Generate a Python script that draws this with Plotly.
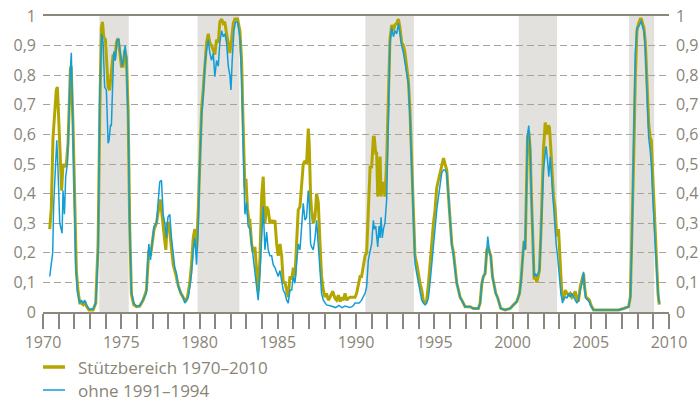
import plotly.graph_objects as go

# --- data ---
olive_years = [1970.43,1970.53,1970.64,1970.85,1970.92,1971.00,1971.11,1971.19,1971.28,1971.41,1971.49,1971.60,1971.75,1971.80,1971.92,1972.03,1972.13,1972.24,1972.35,1972.45,1972.56,1972.67,1972.77,1972.94,1973.20,1973.37,1973.52,1973.63,1973.73,1973.80,1973.88,1973.99,1974.05,1974.16,1974.26,1974.37,1974.48,1974.58,1974.69,1974.80,1974.90,1975.01,1975.12,1975.22,1975.33,1975.44,1975.54,1975.65,1975.80,1975.97,1976.18,1976.40,1976.61,1976.76,1976.87,1976.97,1977.10,1977.25,1977.40,1977.49,1977.57,1977.68,1977.78,1977.85,1977.93,1978.04,1978.17,1978.32,1978.47,1978.64,1978.81,1978.96,1979.11,1979.23,1979.38,1979.49,1979.60,1979.70,1979.81,1979.92,1980.02,1980.13,1980.24,1980.34,1980.45,1980.56,1980.66,1980.77,1980.88,1980.98,1981.09,1981.20,1981.30,1981.41,1981.52,1981.62,1981.73,1981.84,1981.94,1982.05,1982.16,1982.26,1982.43,1982.58,1982.69,1982.79,1982.90,1982.97,1983.06,1983.15,1983.22,1983.33,1983.43,1983.54,1983.65,1983.75,1983.86,1983.97,1984.07,1984.18,1984.29,1984.39,1984.50,1984.61,1984.71,1984.82,1984.93,1985.03,1985.14,1985.25,1985.35,1985.46,1985.57,1985.67,1985.78,1985.89,1986.00,1986.10,1986.20,1986.31,1986.42,1986.52,1986.63,1986.74,1986.84,1986.95,1987.01,1987.10,1987.16,1987.27,1987.38,1987.48,1987.59,1987.70,1987.80,1987.91,1988.02,1988.12,1988.23,1988.34,1988.51,1988.66,1988.76,1988.87,1988.98,1989.08,1989.19,1989.30,1989.40,1989.51,1989.62,1989.83,1989.94,1990.04,1990.15,1990.26,1990.36,1990.47,1990.58,1990.68,1990.79,1990.90,1991.00,1991.11,1991.17,1991.26,1991.32,1991.39,1991.47,1991.54,1991.60,1991.68,1991.75,1991.85,1991.96,1992.07,1992.17,1992.28,1992.39,1992.49,1992.60,1992.71,1992.81,1992.92,1993.03,1993.13,1993.24,1993.35,1993.45,1993.56,1993.67,1993.77,1993.88,1993.99,1994.09,1994.20,1994.31,1994.41,1994.52,1994.63,1994.73,1994.84,1994.95,1995.05,1995.16,1995.27,1995.37,1995.48,1995.59,1995.69,1995.80,1995.91,1996.01,1996.12,1996.23,1996.33,1996.44,1996.55,1996.65,1996.76,1996.87,1996.97,1997.29,1997.50,1997.82,1997.93,1998.04,1998.14,1998.25,1998.36,1998.44,1998.53,1998.61,1998.72,1998.82,1998.93,1999.04,1999.14,1999.25,1999.53,1999.85,2000.06,2000.27,2000.45,2000.55,2000.66,2000.74,2000.81,2000.87,2000.96,2001.04,2001.13,2001.21,2001.30,2001.38,2001.47,2001.55,2001.64,2001.72,2001.81,2001.90,2001.98,2002.09,2002.19,2002.28,2002.36,2002.45,2002.53,2002.62,2002.73,2002.83,2002.94,2003.05,2003.15,2003.26,2003.37,2003.48,2003.58,2003.69,2003.80,2003.90,2004.01,2004.12,2004.22,2004.33,2004.44,2004.54,2004.61,2004.69,2004.80,2004.91,2005.01,2005.18,2005.50,2006.14,2006.78,2007.10,2007.42,2007.53,2007.63,2007.74,2007.85,2007.95,2008.06,2008.17,2008.23,2008.32,2008.40,2008.49,2008.59,2008.70,2008.79,2008.87,2008.93,2009.02,2009.08,2009.13,2009.20,2009.30,2009.38]
olive_values = [0.28,0.35,0.59,0.75,0.76,0.65,0.51,0.41,0.50,0.49,0.50,0.57,0.82,0.83,0.63,0.34,0.14,0.07,0.03,0.03,0.025,0.035,0.02,0.007,0.007,0.03,0.23,0.68,0.96,0.98,0.93,0.92,0.85,0.76,0.75,0.80,0.87,0.85,0.91,0.925,0.885,0.83,0.83,0.885,0.86,0.68,0.29,0.06,0.024,0.018,0.02,0.04,0.074,0.21,0.19,0.23,0.28,0.30,0.345,0.38,0.345,0.30,0.24,0.21,0.30,0.30,0.23,0.16,0.13,0.09,0.063,0.05,0.035,0.05,0.10,0.16,0.25,0.28,0.21,0.345,0.55,0.68,0.755,0.83,0.91,0.94,0.91,0.90,0.88,0.87,0.92,0.91,0.98,0.99,0.975,0.98,0.94,0.90,0.875,0.92,0.975,0.99,0.99,0.95,0.85,0.63,0.42,0.45,0.35,0.31,0.31,0.23,0.20,0.22,0.13,0.07,0.176,0.39,0.457,0.30,0.356,0.345,0.30,0.31,0.30,0.31,0.23,0.19,0.23,0.19,0.10,0.10,0.074,0.05,0.12,0.11,0.15,0.12,0.23,0.345,0.356,0.42,0.50,0.51,0.50,0.62,0.57,0.39,0.345,0.30,0.32,0.40,0.37,0.23,0.12,0.074,0.05,0.063,0.04,0.05,0.07,0.046,0.04,0.057,0.035,0.05,0.04,0.063,0.04,0.046,0.05,0.05,0.05,0.063,0.097,0.12,0.12,0.164,0.19,0.20,0.32,0.49,0.49,0.59,0.59,0.536,0.536,0.39,0.457,0.525,0.39,0.435,0.435,0.39,0.51,0.74,0.92,0.97,0.95,0.97,0.975,0.99,0.96,0.91,0.90,0.875,0.82,0.78,0.68,0.51,0.32,0.19,0.164,0.12,0.097,0.074,0.035,0.03,0.04,0.097,0.164,0.23,0.30,0.345,0.42,0.446,0.47,0.50,0.52,0.50,0.48,0.39,0.30,0.23,0.20,0.14,0.097,0.074,0.05,0.04,0.03,0.018,0.018,0.012,0.012,0.03,0.097,0.12,0.13,0.21,0.22,0.20,0.19,0.12,0.097,0.063,0.05,0.03,0.012,0.007,0.012,0.024,0.035,0.063,0.11,0.19,0.24,0.21,0.39,0.59,0.61,0.55,0.39,0.23,0.11,0.12,0.10,0.12,0.14,0.255,0.39,0.55,0.64,0.60,0.63,0.625,0.55,0.457,0.39,0.345,0.255,0.28,0.164,0.063,0.04,0.074,0.063,0.057,0.063,0.05,0.057,0.07,0.04,0.04,0.085,0.11,0.13,0.085,0.05,0.046,0.04,0.024,0.007,0.007,0.007,0.007,0.012,0.018,0.05,0.23,0.51,0.795,0.95,0.975,0.99,0.99,0.975,0.96,0.91,0.77,0.64,0.59,0.58,0.50,0.38,0.30,0.28,0.17,0.06,0.025]

blue_years = [1970.43,1970.50,1970.56,1970.62,1970.68,1970.81,1970.88,1970.96,1971.07,1971.22,1971.28,1971.37,1971.45,1971.56,1971.66,1971.75,1971.81,1971.88,1971.98,1972.09,1972.20,1972.35,1972.45,1972.56,1972.67,1972.77,1972.94,1973.20,1973.37,1973.52,1973.63,1973.75,1973.84,1973.94,1974.05,1974.16,1974.22,1974.31,1974.37,1974.44,1974.52,1974.61,1974.73,1974.84,1974.95,1975.05,1975.16,1975.25,1975.33,1975.44,1975.54,1975.65,1975.80,1975.97,1976.18,1976.40,1976.60,1976.76,1976.87,1976.97,1977.10,1977.25,1977.36,1977.46,1977.57,1977.68,1977.78,1977.89,1977.98,1978.10,1978.21,1978.32,1978.42,1978.53,1978.64,1978.81,1978.96,1979.06,1979.17,1979.28,1979.38,1979.49,1979.60,1979.70,1979.81,1979.92,1980.02,1980.13,1980.24,1980.34,1980.45,1980.56,1980.66,1980.77,1980.88,1980.98,1981.09,1981.20,1981.30,1981.41,1981.52,1981.62,1981.73,1981.84,1981.94,1982.01,1982.09,1982.20,1982.30,1982.43,1982.58,1982.69,1982.79,1982.90,1983.01,1983.11,1983.22,1983.33,1983.43,1983.54,1983.65,1983.75,1983.86,1983.97,1984.07,1984.18,1984.29,1984.39,1984.50,1984.61,1984.71,1984.82,1984.93,1985.03,1985.14,1985.25,1985.35,1985.46,1985.57,1985.67,1985.78,1985.89,1986.00,1986.10,1986.20,1986.31,1986.42,1986.52,1986.63,1986.74,1986.84,1986.95,1987.01,1987.10,1987.16,1987.27,1987.38,1987.48,1987.59,1987.70,1987.80,1987.91,1988.02,1988.12,1988.40,1988.70,1988.90,1989.10,1989.30,1989.60,1989.80,1989.94,1990.20,1990.36,1990.58,1990.68,1990.79,1990.90,1991.00,1991.11,1991.17,1991.26,1991.32,1991.39,1991.47,1991.54,1991.60,1991.68,1991.75,1991.85,1991.96,1992.07,1992.17,1992.28,1992.39,1992.49,1992.60,1992.71,1992.81,1992.92,1993.03,1993.13,1993.24,1993.35,1993.45,1993.56,1993.67,1993.77,1993.88,1993.99,1994.09,1994.20,1994.31,1994.41,1994.52,1994.63,1994.73,1994.84,1994.95,1995.05,1995.16,1995.27,1995.37,1995.48,1995.59,1995.69,1995.80,1995.91,1996.01,1996.12,1996.23,1996.33,1996.44,1996.55,1996.65,1996.76,1996.87,1996.97,1997.29,1997.50,1997.82,1997.93,1998.04,1998.14,1998.25,1998.36,1998.42,1998.53,1998.61,1998.72,1998.82,1998.93,1999.04,1999.14,1999.25,1999.53,1999.85,2000.06,2000.27,2000.45,2000.55,2000.66,2000.74,2000.81,2000.87,2000.96,2001.04,2001.13,2001.21,2001.30,2001.38,2001.47,2001.55,2001.64,2001.72,2001.81,2001.90,2001.98,2002.09,2002.15,2002.24,2002.32,2002.41,2002.49,2002.58,2002.68,2002.79,2002.88,2002.98,2003.09,2003.20,2003.30,2003.43,2003.48,2003.58,2003.69,2003.80,2003.90,2004.01,2004.12,2004.22,2004.33,2004.44,2004.54,2004.61,2004.69,2004.80,2004.91,2005.01,2005.18,2005.50,2006.14,2006.78,2007.10,2007.42,2007.53,2007.63,2007.74,2007.85,2007.95,2008.06,2008.17,2008.23,2008.32,2008.40,2008.49,2008.59,2008.70,2008.79,2008.87,2008.96,2009.06,2009.13,2009.23,2009.34,2009.40]
blue_values = [0.12,0.15,0.16,0.20,0.36,0.547,0.58,0.48,0.30,0.266,0.41,0.33,0.457,0.50,0.69,0.82,0.876,0.68,0.39,0.16,0.07,0.03,0.04,0.03,0.04,0.025,0.01,0.01,0.03,0.20,0.74,0.94,0.91,0.76,0.75,0.57,0.58,0.63,0.63,0.795,0.88,0.85,0.92,0.92,0.86,0.83,0.86,0.90,0.85,0.65,0.29,0.07,0.03,0.02,0.02,0.04,0.063,0.23,0.176,0.23,0.29,0.30,0.39,0.44,0.445,0.33,0.30,0.25,0.32,0.33,0.25,0.19,0.15,0.13,0.085,0.063,0.05,0.03,0.04,0.05,0.085,0.13,0.21,0.25,0.16,0.29,0.50,0.66,0.73,0.83,0.885,0.92,0.875,0.85,0.875,0.795,0.85,0.83,0.91,0.95,0.93,0.94,0.91,0.83,0.80,0.75,0.85,0.95,0.98,0.98,0.93,0.795,0.57,0.33,0.37,0.29,0.28,0.23,0.20,0.15,0.085,0.04,0.13,0.23,0.356,0.21,0.27,0.21,0.19,0.19,0.16,0.15,0.13,0.12,0.14,0.11,0.074,0.063,0.04,0.03,0.074,0.074,0.12,0.097,0.176,0.23,0.21,0.30,0.367,0.31,0.32,0.41,0.37,0.23,0.22,0.21,0.25,0.31,0.23,0.12,0.063,0.04,0.03,0.024,0.02,0.015,0.022,0.015,0.02,0.015,0.02,0.03,0.03,0.04,0.063,0.085,0.176,0.21,0.23,0.31,0.28,0.29,0.25,0.22,0.29,0.25,0.32,0.25,0.28,0.30,0.38,0.68,0.91,0.96,0.93,0.95,0.94,0.975,0.93,0.90,0.875,0.84,0.795,0.77,0.66,0.49,0.30,0.164,0.13,0.097,0.063,0.04,0.03,0.024,0.03,0.05,0.097,0.164,0.23,0.29,0.345,0.39,0.435,0.47,0.48,0.48,0.47,0.38,0.29,0.23,0.19,0.14,0.097,0.074,0.05,0.04,0.03,0.018,0.018,0.012,0.012,0.03,0.097,0.12,0.13,0.21,0.255,0.20,0.19,0.12,0.097,0.063,0.05,0.03,0.012,0.007,0.012,0.024,0.035,0.063,0.11,0.19,0.24,0.21,0.39,0.60,0.63,0.55,0.39,0.23,0.12,0.13,0.12,0.13,0.14,0.255,0.39,0.48,0.536,0.56,0.51,0.457,0.525,0.457,0.39,0.32,0.23,0.19,0.13,0.063,0.03,0.05,0.05,0.046,0.063,0.05,0.063,0.05,0.04,0.03,0.04,0.074,0.097,0.136,0.074,0.046,0.04,0.035,0.02,0.007,0.007,0.007,0.007,0.012,0.018,0.05,0.23,0.57,0.875,0.96,0.965,0.975,0.985,0.96,0.95,0.885,0.74,0.59,0.55,0.50,0.39,0.28,0.24,0.12,0.04,0.03]

recession_start = [1973.6, 1979.87, 1990.6, 2000.4, 2007.45]
recession_end = [1975.48, 1982.55, 1993.7, 2002.85, 2009.05]

y_tick_values = [0, 0.1, 0.2, 0.3, 0.4, 0.5, 0.6, 0.7, 0.8, 0.9, 1]
y_tick_labels = ["0", "0,1", "0,2", "0,3", "0,4", "0,5", "0,6", "0,7", "0,8", "0,9", "1"]
x_tick_values = [1970, 1975, 1980, 1985, 1990, 1995, 2000, 2005, 2010]
x_tick_labels = ["1970", "1975", "1980", "1985", "1990", "1995", "2000", "2005", "2010"]

series_names = ["Stützbereich 1970–2010", "ohne 1991–1994"]

OLIVE = "#b3a600"
BLUE = "#139dd6"
TEXT = "#8a8477"
GRID = "#a8a397"
AXIS = "#8c877d"
SHADE = "#e3e1dd"
FONT = "Open Sans, Noto Sans, sans-serif"

# plot-area geometry in pixels (used only to place the hand-drawn legend)
W, H = 700, 401
ML, MR, MT, MB = 43, 31, 16, 89
PW, PH = W - ML - MR, H - MT - MB

fig = go.Figure()

fig.add_trace(go.Scatter(x=olive_years, y=olive_values, mode="lines", name=series_names[0],
                         line=dict(color=OLIVE, width=3), hoverinfo="skip", showlegend=False))
fig.add_trace(go.Scatter(x=blue_years, y=blue_values, mode="lines", name=series_names[1],
                         line=dict(color=BLUE, width=1.5), hoverinfo="skip", showlegend=False))
# invisible trace so the right-hand axis is drawn
fig.add_trace(go.Scatter(x=[olive_years[0]], y=[olive_values[0]], yaxis="y2", mode="markers",
                         marker=dict(opacity=0), showlegend=False, hoverinfo="skip"))

for s, e in zip(recession_start, recession_end):
    fig.add_shape(type="rect", xref="x", yref="paper", x0=s, x1=e, y0=0, y1=1,
                  fillcolor=SHADE, line=dict(width=0), layer="below")

# legend drawn by hand below the plot
def px_x(px):
    return (px - ML) / PW

def px_y(py):
    return (H - MB - py) / PH

legend_rows = [(series_names[0], OLIVE, 3.5, 367), (series_names[1], BLUE, 1.5, 390)]
for name, color, width, py in legend_rows:
    fig.add_shape(type="line", xref="paper", yref="paper", x0=px_x(43), x1=px_x(65),
                  y0=px_y(py), y1=px_y(py), line=dict(color=color, width=width))
    fig.add_annotation(xref="paper", yref="paper", x=px_x(76), y=px_y(py), text=name,
                       showarrow=False, xanchor="left", yanchor="middle",
                       font=dict(family=FONT, size=17, color=TEXT))

fig.update_layout(
    width=W, height=H,
    margin=dict(l=ML, r=MR, t=MT, b=MB, autoexpand=False),
    paper_bgcolor="white", plot_bgcolor="white",
    font=dict(family=FONT, size=16, color=TEXT),
    showlegend=False,
    xaxis=dict(range=[1970, 2010], tickmode="array", tickvals=x_tick_values, ticktext=x_tick_labels,
               ticks="outside", ticklen=15, tickwidth=1.5, tickcolor=AXIS,
               minor=dict(dtick=1, tick0=1970, ticks="outside", ticklen=15, tickwidth=1.5, tickcolor=AXIS, showgrid=False),
               showgrid=False, zeroline=False, showline=True, linecolor=AXIS, linewidth=1.5,
               mirror=True, fixedrange=True, automargin=False),
    yaxis=dict(range=[0, 1], tickmode="array", tickvals=y_tick_values, ticktext=y_tick_labels,
               showgrid=True, gridcolor=GRID, gridwidth=1.3, griddash="7px,4px",
               zeroline=False, showline=False, ticks="", ticklabelstandoff=6, fixedrange=True,
               automargin=False),
    yaxis2=dict(range=[0, 1], overlaying="y", side="right", tickmode="array", tickvals=y_tick_values,
                ticktext=y_tick_labels, showgrid=False, zeroline=False, showline=False, ticks="",
                ticklabelstandoff=6, fixedrange=True, automargin=False),
)

page_css = ("document.documentElement.style.margin='0';document.body.style.margin='0';"
            "document.body.style.padding='0';document.body.style.overflow='hidden';")
fig.write_html("out.html", post_script=page_css, config={"displayModeBar": False})
